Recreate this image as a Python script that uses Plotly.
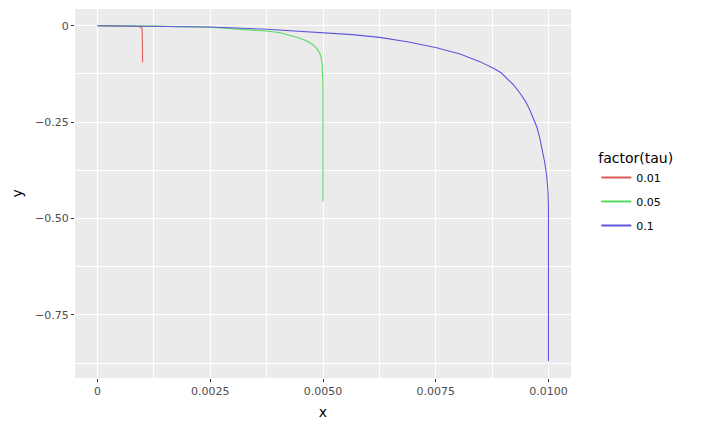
import plotly.graph_objects as go

# values
tau_labels = ["0.01", "0.05", "0.1"]
colors = ["#db5f57", "#57db5e", "#5e57db"]

x_001 = [0, 0.0003, 0.0006, 0.0008, 0.0009, 0.00095, 0.00098, 0.00099, 0.001]
y_001 = [0, -0.0001, -0.0004, -0.001, -0.002, -0.003, -0.005, -0.012, -0.095]

x_005 = [0, 0.00125, 0.0025, 0.00315, 0.00374, 0.00405, 0.00426, 0.00446, 0.00463,
         0.00474, 0.00482, 0.00488, 0.00493, 0.00496, 0.00498, 0.00499, 0.005, 0.005]
y_005 = [0, -0.001, -0.004, -0.0086, -0.0137, -0.018, -0.024, -0.031, -0.039,
         -0.046, -0.054, -0.062, -0.072, -0.083, -0.097, -0.12, -0.158, -0.456]

x_01 = [0, 0.00125, 0.0025, 0.00375, 0.005, 0.00565, 0.00626, 0.0069, 0.00752,
        0.00804, 0.00848, 0.00878, 0.00895, 0.00908, 0.00923, 0.00937, 0.00949,
        0.00959, 0.00967, 0.00974, 0.0098, 0.00985, 0.00991, 0.00996,
        0.00999, 0.01, 0.01]
y_01 = [0, -0.0008, -0.003, -0.009, -0.018, -0.023, -0.030, -0.042, -0.057,
        -0.073, -0.093, -0.110, -0.122, -0.136, -0.154, -0.175, -0.196,
        -0.219, -0.240, -0.262, -0.287, -0.314, -0.350, -0.387,
        -0.43, -0.47, -0.87]

xs = [x_001, x_005, x_01]
ys = [y_001, y_005, y_01]

x_ticks = [0, 0.0025, 0.005, 0.0075, 0.01]
x_tick_text = ["0", "0.0025", "0.0050", "0.0075", "0.0100"]
y_ticks = [0, -0.25, -0.5, -0.75]
y_tick_text = ["0", "\u22120.25", "\u22120.50", "\u22120.75"]

fig = go.Figure()
for i in range(3):
    fig.add_trace(go.Scatter(
        x=xs[i], y=ys[i], mode="lines", name=tau_labels[i],
        showlegend=False,
        line=dict(color=colors[i], width=1.1),
    ))
# legend keys drawn a bit thicker, like ggplot keys
for i in range(3):
    fig.add_trace(go.Scatter(
        x=[None], y=[None], mode="lines", name=tau_labels[i],
        legendgroup=tau_labels[i],
        line=dict(color=colors[i], width=2.2),
    ))

fig.update_layout(
    width=707, height=430,
    margin=dict(l=75, r=136, t=9, b=52),
    paper_bgcolor="white",
    plot_bgcolor="#EBEBEB",
    font=dict(family="DejaVu Sans", color="#4D4D4D", size=11),
    legend=dict(
        title=dict(text="factor(tau)", font=dict(size=14, color="black")),
        x=1.051, y=0.632, xanchor="left", yanchor="top",
        bgcolor="white", font=dict(size=11, color="black"),
        tracegroupgap=5, itemwidth=30,
    ),
    annotations=[dict(
        text="y", xref="paper", yref="paper", x=-0.117, y=0.5,
        xanchor="center", yanchor="middle",
        textangle=-90, showarrow=False, font=dict(size=14, color="black"),
    )],
)

fig.update_xaxes(
    range=[-0.0005, 0.0105],
    tickvals=x_ticks, ticktext=x_tick_text,
    showgrid=True, gridcolor="white", gridwidth=1.2,
    minor=dict(showgrid=True, gridcolor="white", gridwidth=0.6, dtick=0.00125),
    zeroline=False,
    ticks="outside", ticklen=3, tickcolor="#333333",
    title=dict(text="x", font=dict(size=14, color="black"), standoff=9),
)
fig.update_yaxes(
    range=[-0.9135, 0.0435],
    tickvals=y_ticks, ticktext=y_tick_text,
    showgrid=True, gridcolor="white", gridwidth=1.2,
    minor=dict(showgrid=True, gridcolor="white", gridwidth=0.6,
               tickvals=[-0.125, -0.375, -0.625, -0.875]),
    zeroline=False,
    ticks="outside", ticklen=3, tickcolor="#333333",
)

# drop the default 8px page margin so the figure sits at the window corner
fig.write_html("out.html", config={"displayModeBar": False},
               post_script="document.body.style.margin='0';")
